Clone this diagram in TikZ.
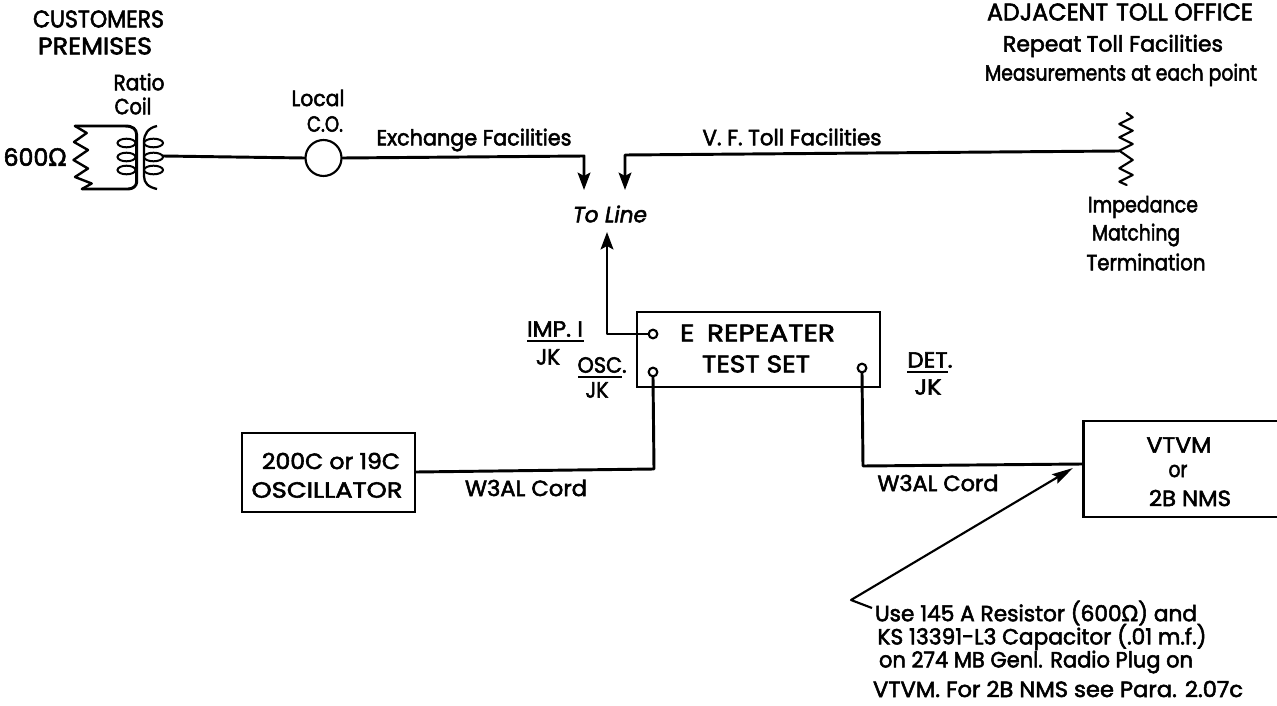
\documentclass[tikz,border=0pt]{standalone}
\usepackage{graphicx}
\usepackage{fontspec}
\setmainfont[FakeBold=2.4]{Poppins}
\newfontfamily\omfont[FakeBold=2]{DejaVu Sans}
\usetikzlibrary{arrows.meta,calc}
\newcommand{\Om}{{\omfont\char"03A9}}
% text scaled horizontally to a width given in picture pixels
\newcommand{\fw}[2]{\setbox0\hbox{#2}\pgfmathsetmacro\fwr{#1*0.75/\the\wd0}\scalebox{\fwr}[1]{\box0}}
\tikzset{
 wire/.style={line width=2.2pt,line join=round,line cap=round,black},
 thin wire/.style={line width=1.6pt,line join=round,black},
 tip/.style={-{Stealth[length=13pt,width=9.5pt,inset=2.5pt]}},
 devbox/.style={draw,line width=1.9pt,inner sep=0pt},
 jack/.style={circle,draw,line width=1.6pt,fill=white,minimum size=6.5pt,inner sep=0pt},
 lbl/.style={inner sep=0pt,font=\fontsize{18}{20}\selectfont,anchor=center},
 small/.style={lbl,font=\fontsize{16.5}{18}\selectfont},
 rule/.style={line width=1.5pt},
}
\begin{document}
\begin{tikzpicture}[x=0.75pt,y=-0.75pt]
\useasboundingbox (0,0) rectangle (1277,706);
\fill[white] (0,0) rectangle (1277,706);
% text
\node[lbl] (t1) at (98.5,19) {\fw{131}{CUSTOMERS}};
\node[lbl] (t2) at (95,46) {\fw{114}{PREMISES}};
\node[small] (t3) at (139,82) {\fw{51}{Ratio}};
\node[small] (t4) at (133,106) {\fw{37}{Coil}};
\node[lbl] (t5) at (35,157) {\fw{63}{600\Om}};
\node[small] (t6) at (318,98) {\fw{53}{Local}};
\node[small] (t7) at (325,124) {\fw{36}{C.O.}};
\node[small] (t8) at (474,140) {\fw{195}{Exchange Facilities}};
\node[small] (t9) at (792,137) {\fw{179}{V. F. Toll Facilities}};
\node[small] (t10) at (610,214) {\itshape\fw{74}{To Line}};
\node[lbl] (t11) at (1120,12) {\fw{266}{ADJACENT\hspace{6pt}TOLL OFFICE}};
\node[small] (t12) at (1113,46) {\fw{220}{Repeat\hspace{4pt}Toll Facilities}};
\node[small] (t13) at (1121,75) {\fw{272}{Measurements at each point}};
\node[small] (t14) at (1143,207) {\fw{110}{Impedance}};
\node[small] (t15) at (1136,235) {\fw{88}{Matching}};
\node[small] (t16) at (1146,262) {\fw{119}{Termination}};
\node[small] (t17) at (555,329) {\fw{56}{IMP. I}};
\draw[rule] (527,341) -- (584,341);
\node[small] (t18) at (548,357) {\fw{24}{JK}};
\node[small] (t19) at (602,365) {\fw{49}{OSC.}};
\draw[rule] (578,377) -- (622,377);
\node[small] (t20) at (597,390) {\fw{23}{JK}};
\node[small] (t21) at (930,360) {\fw{45}{DET.}};
\draw[rule] (907,372) -- (948,372);
\node[small] (t22) at (928,387) {\fw{27}{JK}};
\node[lbl] (t23) at (757.5,333) {\fw{155}{E\hspace{8pt}REPEATER}};
\node[lbl] (t24) at (756,364) {\fw{108}{TEST SET}};
\node[small] (t25) at (331,461) {\fw{138}{200C or 19C}};
\node[small] (t26) at (327,490) {\fw{151}{OSCILLATOR}};
\node[small] (t27) at (526,488) {\fw{122}{W3AL Cord}};
\node[small] (t28) at (938,483) {\fw{121}{W3AL Cord}};
\node[small] (t29) at (1179,445) {\fw{65}{VTVM}};
\node[small] (t30) at (1178,471) {\fw{19}{or}};
\node[small] (t31) at (1190,498) {\fw{82}{2B NMS}};
\node[small] (t32) at (1036,613) {\fw{322}{Use 145 A Resistor (600\Om) and}};
\node[small] (t33) at (1042,637) {\fw{329}{KS 13391-L3 Capacitor (.01 m.f.)}};
\node[small] (t34) at (1036,662) {\fw{314}{on 274 MB Genl. Radio Plug on}};
\node[small] (t35) at (1058,689) {\fw{370}{VTVM. For 2B NMS see Para. 2.07c}};
% boxes
\node[devbox,minimum width=182.25pt,minimum height=56.25pt] (rep) at (758.5,349.5) {};
\node[devbox,minimum width=129.75pt,minimum height=59.25pt] (osc) at (328.5,472.5) {};
\node[devbox,minimum width=147pt,minimum height=72pt] (vtvm) at (1181.5,469) {};
% local office
\node[circle,draw,line width=1.6pt,minimum size=27pt,inner sep=0pt] (co) at (323.5,158) {};
% jacks
\node[jack] (jimp) at (653,334) {};
\node[jack] (josc) at (653,372) {};
\node[jack] (jdet) at (862,368) {};
% free ends
\coordinate (coilout) at (163,156);
\coordinate (rterm) at (1119,151);
\coordinate (tipa) at (584,190);
\coordinate (tipb) at (625,190);
\coordinate (tipc) at (607,232);
\coordinate (vtip) at (1073,468);
\coordinate (vknee) at (851,600);
\coordinate (vend) at (872,608);
% connectors
\draw[wire] (coilout) -- (co.west);
\draw[wire,tip] (co.east) -- (584,156) -- (tipa);
\draw[wire,tip] (rterm) -- (625,155) -- (tipb);
\draw[wire,tip] (jimp.west) -- (607,334) -- (tipc);
\draw[wire] (josc.south) -- (654,469) -- (osc.east |- 0,472);
\draw[wire] (jdet.south) -- (863,466) -- (vtvm.west |- 0,464);
\draw[thin wire,-{Stealth[length=16pt,width=8pt,inset=2.5pt]}] (vend) -- (vknee) -- (vtip);
% left resistor and primary
\draw[wire,line width=1.8pt] (75,126) -- (86.7,133) -- (74,142) -- (88,150) -- (73.5,160) -- (88,168.5) -- (75,177) -- (91.7,183.5) -- (82,189);
\draw[wire] (75,126) -- (125,126) .. controls (133,126) and (136.5,129) .. (136.7,135) -- (136.7,182) .. controls (136.5,186) and (133,189) .. (128,189) -- (82,189);
\foreach \y in {143,157,170}{
  \draw[line width=1.5pt] (126.5,\y) ellipse (9 and 4.3);
  \draw[line width=1.5pt] (153.5,\y) ellipse (9.5 and 4.3);
}
\draw[line width=1.7pt] (157,126) .. controls (148,128) and (144,134) .. (144,142) -- (144,176) .. controls (144,183) and (148,187) .. (157,189);
% right resistor
\draw[wire,line width=1.6pt] (1126.7,113) -- (1132.7,117.3) -- (1119.3,124) -- (1132.7,130.7) -- (1119.3,137.3) -- (1132.7,144) -- (1119.3,150.7) -- (1132.7,160) -- (1119.3,168.3) -- (1132.7,175) -- (1119.3,181.7) -- (1126.7,185);
\end{tikzpicture}
\end{document}
